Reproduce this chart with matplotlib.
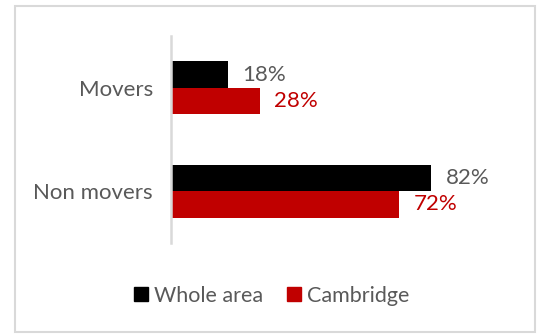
import matplotlib
matplotlib.use('Agg')
import matplotlib.pyplot as plt
from matplotlib.patches import Rectangle
from matplotlib.lines import Line2D
import numpy as np

categories = ['Movers', 'Non movers']
whole_area = [18, 82]
cambridge = [28, 72]
series_names = ['Whole area', 'Cambridge']

plt.rcParams['font.family'] = ['Lato', 'DejaVu Sans']
gray_txt = '#595959'
black = '#000000'
red = '#C00000'

fig = plt.figure(figsize=(5.39, 3.34), dpi=100)
ax = fig.add_axes([171 / 539, 91 / 334, 317 / 539, 207 / 334])

y = np.arange(len(categories))
h = 0.255
ax.barh(y - h / 2, whole_area, height=h, color=black)
ax.barh(y + h / 2, cambridge, height=h, color=red)

for yi, v in zip(y - h / 2, whole_area):
    ax.annotate(f'{v}%', (v, yi), xytext=(10.5, 0), textcoords='offset points',
                va='center', ha='left', fontsize=16, color=gray_txt)
for yi, v in zip(y + h / 2, cambridge):
    ax.annotate(f'{v}%', (v, yi), xytext=(10.5, 0), textcoords='offset points',
                va='center', ha='left', fontsize=16, color=red)

ax.set_xlim(0, 100)
ax.set_ylim(len(categories) - 0.5, -0.5)
ax.set_yticks(y)
ax.set_yticklabels(categories, fontsize=16, color=gray_txt)
ax.tick_params(axis='y', length=0, pad=13)
ax.set_xticks([])
for s in ['top', 'right', 'bottom']:
    ax.spines[s].set_visible(False)
ax.spines['left'].set_color('#D9D9D9')
ax.spines['left'].set_linewidth(1.8)

handles = [Line2D([], [], marker='s', linestyle='none', markersize=9.6,
                  color=c) for c in (black, red)]
leg = fig.legend(handles, series_names, loc='center', bbox_to_anchor=(271 / 539, 1 - 296 / 334),
                 ncol=2, frameon=False, fontsize=15.5, handlelength=0.8,
                 handletextpad=0.2, columnspacing=1.05, labelcolor=gray_txt)

fig.patches.append(Rectangle((15 / 539, 2 / 334), 520 / 539, 326 / 334,
                             transform=fig.transFigure, fill=False,
                             edgecolor='#D9D9D9', linewidth=1.5))

fig.savefig('out.png', dpi=100)
